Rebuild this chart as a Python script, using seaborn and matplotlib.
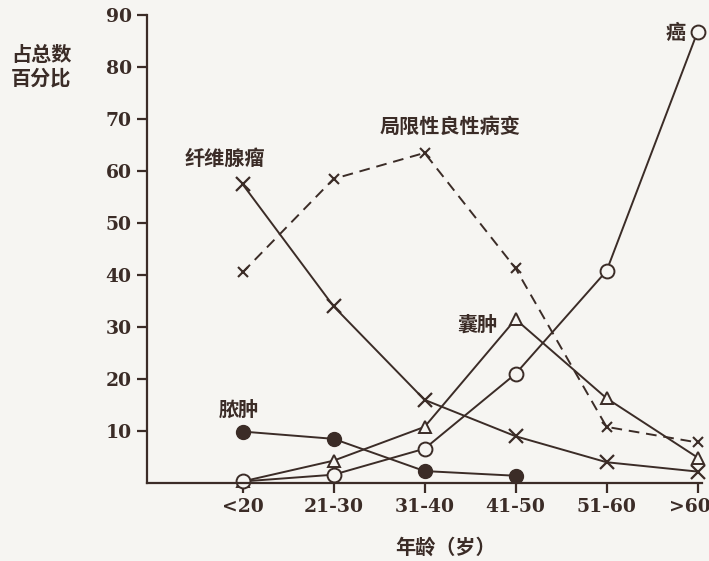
import matplotlib
matplotlib.use("Agg")
import matplotlib.pyplot as plt
import matplotlib.transforms as mtransforms
import seaborn as sns
import pandas as pd

categories = ["<20", "21-30", "31-40", "41-50", "51-60", ">60"]
fibroadenoma = [57.5, 34, 16, 9, 4, 2.2]
localized_benign = [40.5, 58.5, 63.5, 41.3, 10.8, 7.8]
cyst = [0.3, 4.3, 10.8, 31.5, 16.3, 4.9]
cancer = [0.3, 1.6, 6.6, 21, 40.8, 86.8]
abscess = [9.9, 8.5, 2.3, 1.4]

y_ticks = [10, 20, 30, 40, 50, 60, 70, 80, 90]
y_label = "占总数\n百分比"
x_label = "年龄（岁）"
series_labels = {"fib": "纤维腺瘤", "loc": "局限性良性病变", "cyst": "囊肿",
                 "cancer": "癌", "abscess": "脓肿"}

sns.set_theme(style="white")
plt.rcParams['font.family'] = ['Noto Sans CJK SC', 'DejaVu Sans']

ink = "#3b2c27"
bg = "#f6f5f2"

fig = plt.figure(figsize=(7.09, 5.61), dpi=100, facecolor=bg)
ax = fig.add_axes([0.2073, 0.139, 0.783, 0.834])
ax.set_facecolor(bg)

pos = list(range(len(categories)))

def draw(vals, **kw):
    df = pd.DataFrame({"x": pos[:len(vals)], "y": vals})
    sns.lineplot(data=df, x="x", y="y", ax=ax, color=ink, lw=1.4,
                 clip_on=False, markeredgecolor=ink, **kw)

draw(fibroadenoma, marker="x", markersize=10, markeredgewidth=1.6)
draw(localized_benign, marker="x", markersize=7, markeredgewidth=1.5,
     linestyle=(0, (5.5, 3.5)))
draw(cyst, marker="^", markersize=8, markerfacecolor=bg, markeredgewidth=1.4)
draw(cancer, marker="o", markersize=10, markerfacecolor=bg, markeredgewidth=1.4)
draw(abscess, marker="o", markersize=10, markerfacecolor=ink, markeredgewidth=1.0)

ax.set_xlim(-1.05, 5.05)
ax.set_ylim(0, 90)
ax.set_xticks(pos)
ax.set_xticklabels(categories)
ax.set_yticks(y_ticks)
ax.set_xlabel("")
ax.set_ylabel("")

for s in ["top", "right"]:
    ax.spines[s].set_visible(False)
for s in ["left", "bottom"]:
    ax.spines[s].set_color(ink)
    ax.spines[s].set_linewidth(1.6)

ax.tick_params(axis="both", direction="out", length=7, width=1.6, color=ink,
               labelcolor=ink, bottom=True, left=True, pad=4)
for lab in ax.get_xticklabels() + ax.get_yticklabels():
    lab.set_fontfamily("DejaVu Serif")
    lab.set_fontweight("bold")
    lab.set_fontsize(13.5)

# nudge the last x tick label so it stays inside the figure
last = ax.get_xticklabels()[-1]
last.set_transform(last.get_transform() +
                   mtransforms.ScaledTranslation(-8 / 100, 0, fig.dpi_scale_trans))

txt = dict(color=ink, fontsize=14.5, fontweight="bold")
fig.text(0.058, 0.882, y_label, ha="center", va="center", linespacing=1.1, **txt)
fig.text(0.628, 0.024, x_label, ha="center", va="center", **txt)

ax.text(-0.2, 62.5, series_labels["fib"], ha="center", va="center", **txt)
ax.text(2.28, 68.5, series_labels["loc"], ha="center", va="center", **txt)
ax.text(4.76, 86.6, series_labels["cancer"], ha="center", va="center", **txt)
ax.text(2.58, 30.6, series_labels["cyst"], ha="center", va="center", **txt)
ax.text(-0.04, 14.2, series_labels["abscess"], ha="center", va="center", **txt)

fig.savefig("out.png", dpi=100, facecolor=bg)
